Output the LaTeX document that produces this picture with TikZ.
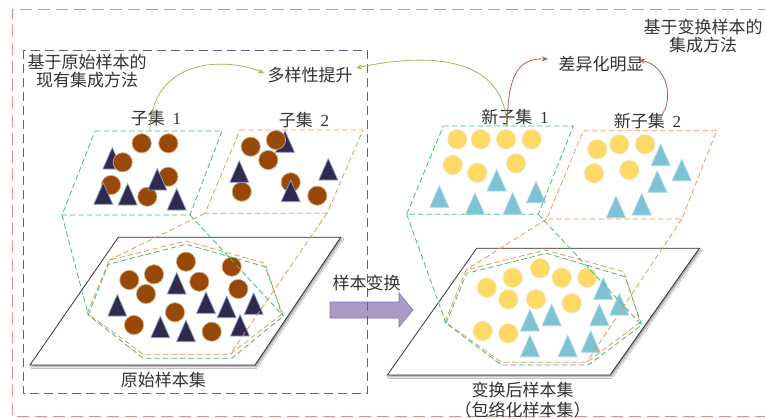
\documentclass[tikz,border=0pt]{standalone}
\usepackage{fontspec}
\setmainfont{Noto Sans CJK SC}
\newfontfamily\digitfont{Liberation Serif}
\usetikzlibrary{arrows.meta,shadows.blur}
\definecolor{txt}{RGB}{50,50,50}
\definecolor{redd}{RGB}{232,140,130}
\definecolor{blued}{RGB}{85,100,145}
\definecolor{grn}{RGB}{60,190,120}
\definecolor{org}{RGB}{240,150,90}
\definecolor{brn}{RGB}{152,72,8}
\definecolor{brnline}{RGB}{210,175,120}
\definecolor{navy}{RGB}{48,42,78}
\definecolor{navyline}{RGB}{140,160,205}
\definecolor{yel}{RGB}{255,217,102}
\definecolor{yelline}{RGB}{245,228,170}
\definecolor{lblue}{RGB}{125,195,212}
\definecolor{lblueline}{RGB}{165,215,228}
\definecolor{garr}{RGB}{155,187,89}
\definecolor{rarr}{RGB}{200,85,80}
\definecolor{purf}{RGB}{170,154,200}
\definecolor{purd}{RGB}{135,115,172}
\newcommand\BrC[2]{\draw[bcirc] (#1,#2) circle[radius=9.6];}
\newcommand\YeC[2]{\draw[ycirc] (#1,#2) circle[radius=9.6];}
\newcommand\NvT[2]{\draw[ntri] ({#1-9.5},#2) -- ({#1+9.5},#2) -- (#1,{#2-21.5}) -- cycle;}
\newcommand\BlT[2]{\draw[btri] ({#1-9.5},#2) -- ({#1+9.5},#2) -- (#1,{#2-21.5}) -- cycle;}
\newcommand\Dg[1]{\hspace{0.45em}{\digitfont #1}}
\begin{document}
\begin{tikzpicture}[x=1pt,y=-1pt,
 lbl/.style={font=\fontsize{17}{18}\selectfont, text=txt, inner sep=0pt, align=center},
 gdash/.style={draw=grn, line width=0.8pt, dash pattern=on 5.5pt off 3pt},
 odash/.style={draw=org, line width=0.8pt, dash pattern=on 5.5pt off 3pt},
 bcirc/.style={fill=brn, draw=brnline, line width=0.7pt},
 ntri/.style={fill=navy, draw=navyline, line width=0.7pt},
 ycirc/.style={fill=yel, draw=yelline, line width=0.7pt},
 btri/.style={fill=lblue, draw=lblueline, line width=0.7pt},
 bigpar/.style={fill=white, draw=black!80, line width=0.8pt, blur shadow={shadow xshift=1.5pt,shadow yshift=-1.8pt,shadow blur radius=1.5pt,shadow blur steps=6}},
 garrow/.style={draw=garr, line width=0.8pt, -{Stealth[length=6pt,width=5pt]}},
 rarrow/.style={draw=rarr, line width=0.8pt, -{Stealth[length=6pt,width=5pt]}}]
\useasboundingbox (0,0) rectangle (765,418);
\fill[white] (0,0) rectangle (765,418);
% outer red dashed frame
\draw[redd, line width=0.8pt, dash pattern=on 12pt off 6pt] (770,9.3) -- (12,9.3) -- (12,416.5) -- (770,416.5);

% ===== LEFT: original sample set =====
\draw[bigpar] (118.3,237.3) -- (340.7,237.3) -- (255,365) -- (30,365) -- cycle;
\BrC{129.3}{280}\BrC{154}{274.3}\BrC{146}{294}\BrC{186}{261.7}\BrC{199.3}{281.7}
\BrC{231.7}{266.7}\BrC{238.3}{289}\BrC{175}{312.3}\BrC{134}{325}\BrC{211.7}{331.7}
\NvT{176.7}{294}\NvT{117.3}{316}\NvT{206}{313.3}\NvT{226.7}{317.7}\NvT{253.7}{314.3}
\NvT{160.3}{337.7}\NvT{186}{341.7}\NvT{240}{336}
% subset 1
\draw[gdash] (95,131) -- (222,131) -- (190,215) -- (62,215) -- cycle;
\NvT{112.3}{169}
\BrC{141.7}{143.3}\BrC{168.3}{143.3}\BrC{122.7}{162.3}\BrC{168.3}{176.7}\BrC{111}{185}\BrC{147.3}{196.7}
\NvT{157.3}{190}\NvT{103.3}{204.3}\NvT{127.7}{205}\NvT{176.7}{210}
% subset 2
\draw[odash] (240,130) -- (363,130) -- (327,213.3) -- (205,213.3) -- cycle;
\NvT{285}{152.3}
\BrC{250.7}{146.7}\BrC{276}{140}\BrC{268.3}{160}\BrC{290.7}{182.3}\BrC{241.7}{191.7}\BrC{317.3}{195.7}
\NvT{239.3}{182.3}\NvT{328.3}{180}\NvT{290.7}{201.7}
% hulls
\draw[odash] (87.3,313.3) -- (109.3,260) -- (186,241) -- (265,263.3) -- (281.7,314.3) -- (230,354.3) -- (143.3,354.3) -- cycle;
\draw[gdash] (88.3,315) -- (108.3,264.3) -- (186,244.3) -- (265,266.7) -- (283.3,316) -- (231.7,358.3) -- (143.3,358.3) -- cycle;
% projection lines
\draw[gdash] (62,215) -- (88.3,315);
\draw[gdash] (190,215) -- (283.3,316);
\draw[odash] (205,213.3) -- (109.3,260);
\draw[odash] (327,213.3) -- (230,354.3);

% ===== RIGHT: transformed sample set =====
\draw[bigpar] (476.7,248.3) -- (699.3,248.3) -- (610,375) -- (387.3,375) -- cycle;
\YeC{486.7}{287.7}\YeC{512.7}{277.7}\YeC{540}{268.3}\YeC{561.7}{277.7}\YeC{587.3}{277.7}
\YeC{508.3}{299.3}\YeC{536}{299.3}\YeC{571.7}{303.3}\YeC{482.7}{331}\YeC{508.3}{333.3}
\BlT{603.3}{299.3}\BlT{619.3}{315}\BlT{530}{331}\BlT{551.7}{325.7}\BlT{599.3}{325.7}
\BlT{530}{356.7}\BlT{567.7}{356.7}\BlT{590.7}{352.3}
% new subset 1
\draw[gdash] (443.3,126) -- (573.3,126) -- (538.3,214.3) -- (406.7,214.3) -- cycle;
\YeC{457.3}{139.3}\YeC{480.7}{139.3}\YeC{506}{139.3}\YeC{531.7}{139.3}
\YeC{452.7}{165}\YeC{477.3}{172.7}\YeC{516}{163.3}
\BlT{496.7}{191}\BlT{439.3}{207.3}\BlT{475}{214.3}\BlT{512.7}{214.3}\BlT{536}{202.7}
% new subset 2
\draw[odash] (583.3,130.7) -- (716.7,130.7) -- (681.7,219) -- (546.7,219) -- cycle;
\YeC{597.3}{149.3}\YeC{619.3}{144.3}\YeC{645}{144.3}\YeC{594}{173.3}\YeC{629.3}{170}
\BlT{660.7}{165.7}\BlT{681.7}{180.7}\BlT{657.3}{192.3}\BlT{616}{217.7}\BlT{641.7}{215}
% hulls
\draw[odash] (445,321.7) -- (466,270) -- (545,250) -- (624,271.7) -- (640,322.3) -- (586.7,362.3) -- (501.7,362.3) -- cycle;
\draw[gdash] (446,323.3) -- (466.7,273.3) -- (546.7,253.3) -- (625,276.7) -- (641.7,325) -- (588.3,365) -- (501.7,365) -- cycle;
% projection lines
\draw[gdash] (406.7,214.3) -- (446,323.3);
\draw[gdash] (538.3,214.3) -- (641.7,325);
\draw[odash] (546.7,219) -- (466,270);
\draw[odash] (681.7,219) -- (586.7,362.3);

% ===== transformation block arrow =====
\draw[fill=purf, draw=purd, line width=0.6pt] (330,302) -- (399,302) -- (399,293) -- (413,310) -- (399,327) -- (399,318) -- (330,318) -- cycle;

% blue dashed box
\draw[blued, line width=0.8pt, dash pattern=on 9pt off 5pt] (23.3,50) rectangle (367.3,393.3);

% ===== texts =====
\node[lbl] (exist) at (87,71) {基于原始样本的\\现有集成方法};
\node[lbl] (trans) at (703,36.5) {基于变换样本的\\集成方法};
\node[lbl] (div) at (310,75) {多样性提升};
\node[lbl] (diff) at (601,64.5) {差异化明显};
\node[lbl] (sub1) at (156,118.5) {子集\Dg{1}};
\node[lbl] (sub2) at (304,120) {子集\Dg{2}};
\node[lbl] (nsub1) at (515,117) {新子集\Dg{1}};
\node[lbl] (nsub2) at (647.5,121.5) {新子集\Dg{2}};
\node[lbl] (orig) at (163.3,380.5) {原始样本集};
\node[lbl] (tset) at (522.5,390) {变换后样本集};
\node[lbl] (tset2) at (522.5,410) {（包络化样本集）};
\node[lbl] (xf) at (366.5,283) {样本变换};

% ===== curved arrows =====
\coordinate (s1top) at (150,131);
\coordinate (ns1top) at (507,126);
\coordinate (ns2top) at (661,116);
\coordinate (divL) at (264,73);
\coordinate (divR) at (356,68);
\coordinate (diffL) at (548,59);
\coordinate (diffR) at (639,60);
\draw[garrow] (s1top) .. controls (151,60) and (222,56) .. (divL);
\draw[garrow] (ns1top) .. controls (505,62) and (440,50) .. (divR);
\draw[rarrow] (ns1top) .. controls (508,78) and (516,58) .. (diffL);
\draw[rarrow] (ns2top) .. controls (674,100) and (668,66) .. (diffR);
\end{tikzpicture}
\end{document}
